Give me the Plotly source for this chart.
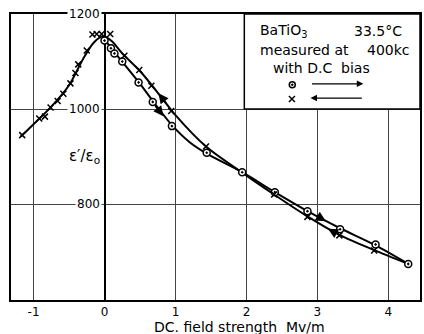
import plotly.graph_objects as go

# ---- data ----
# smooth curve through the "decreasing field" (x) points
curve_dec_x = [-1.18, -1.0, -0.75, -0.5, -0.3, -0.15, -0.02, 0.1, 0.25, 0.5, 0.8, 1.0, 1.43, 1.94, 2.39, 2.86, 3.31, 3.80, 4.28]
curve_dec_y = [942, 968, 1005, 1050, 1106, 1140, 1153, 1143, 1117, 1080, 1025, 987, 921, 866, 820, 774, 735, 703, 674]
# smooth curve through the "increasing field" (circle) points
curve_inc_x = [0.0, 0.16, 0.48, 0.68, 0.95, 1.2, 1.44, 1.94, 2.40, 2.86, 3.32, 3.82, 4.28]
curve_inc_y = [1146, 1116, 1057, 1017, 966, 930, 906, 867, 825, 785, 749, 713, 674]

# measured points
inc_x = [0.0, 0.09, 0.14, 0.25, 0.48, 0.68, 0.95, 1.44, 1.94, 2.40, 2.86, 3.32, 3.82, 4.28]
inc_y = [1144, 1128, 1117, 1100, 1056, 1015, 964, 908, 867, 825, 785, 747, 715, 674]
dec_x = [3.80, 3.31, 2.86, 2.39, 1.43, 0.94, 0.66, 0.49, 0.28, 0.08, -0.04, -0.11, -0.17,
         -0.25, -0.37, -0.41, -0.48, -0.58, -0.66, -0.76, -0.84, -0.92, -1.16]
dec_y = [702, 734, 773, 820, 921, 996, 1049, 1082, 1112, 1158, 1158, 1158, 1157,
         1123, 1094, 1076, 1054, 1032, 1017, 1003, 984, 980, 945]

x_ticks = [-1, 0, 1, 2, 3, 4]
x_ticktext = ["-1", "0", "1", "2", "3", "4"]
y_grid = [800, 1000]
y_labels = [1200, 1000, 800]

# legend sample symbols
legend_sym_x = [2.646, 2.641]
legend_sym_y = [1051, 1021]
legend_sym = ["circle-dot", "x-thin"]

FONT = "DejaVu Sans"

fig = go.Figure()
fig.add_trace(go.Scatter(x=curve_dec_x, y=curve_dec_y, mode="lines",
                         line=dict(color="black", width=2, shape="spline", smoothing=0.8),
                         hoverinfo="skip", showlegend=False))
fig.add_trace(go.Scatter(x=curve_inc_x, y=curve_inc_y, mode="lines",
                         line=dict(color="black", width=2, shape="spline", smoothing=0.8),
                         hoverinfo="skip", showlegend=False))
fig.add_trace(go.Scatter(x=inc_x, y=inc_y, mode="markers",
                         marker=dict(symbol="circle-dot", size=7, color="white",
                                     line=dict(color="black", width=1.5)),
                         showlegend=False))
fig.add_trace(go.Scatter(x=dec_x, y=dec_y, mode="markers",
                         marker=dict(symbol="x-thin", size=6, color="black",
                                     line=dict(color="black", width=1.5)),
                         showlegend=False))

# legend box (between gridlines and traces)
fig.add_shape(type="rect", xref="x", yref="y", x0=1.97, x1=4.446, y0=1000, y1=1200,
              line=dict(color="black", width=1.5), fillcolor="white", layer="between")
fig.add_trace(go.Scatter(x=legend_sym_x, y=legend_sym_y, mode="markers",
                         marker=dict(symbol=legend_sym, size=6, color="white",
                                     line=dict(color="black", width=1.5)),
                         showlegend=False, hoverinfo="skip"))

ann = []
def txt(x, y, t, size=14, xanchor="left", bg=None, yref="y"):
    d = dict(x=x, y=y, xref="x", yref=yref, text=t, showarrow=False, xanchor=xanchor,
             yanchor="middle", font=dict(family=FONT, size=size, color="black"))
    if bg:
        d.update(bgcolor=bg, borderpad=1)
    ann.append(d)

txt(2.156, 1165, "BaTiO<sub>3</sub>")
txt(4.22, 1165, "33.5°C", xanchor="right")
txt(2.156, 1124, "measured at")
txt(4.33, 1124, "400kc", xanchor="right")
txt(2.342, 1086, "with D.C  bias")

for v in y_labels:
    txt(-0.035, v, str(v), size=12, xanchor="right", bg="white")

txt(-0.03, 900, "ε′/ε<sub>o</sub>", size=15, xanchor="right")

# x-axis title (placed off-centre as in the original)
txt(1.907, -0.093, "DC. field strength  Mv/m", size=14, xanchor="center", yref="paper")

def arrow(xh, yh, xt, yt, w=1.3, head=2, size=1.0):
    ann.append(dict(x=xh, y=yh, ax=xt, ay=yt, xref="x", yref="y", axref="x", ayref="y",
                    text="", showarrow=True, arrowhead=head, arrowsize=size,
                    arrowwidth=w, arrowcolor="black", standoff=0, startstandoff=0))

# legend arrows
arrow(3.647, 1053, 2.903, 1053)
arrow(2.903, 1023, 3.647, 1023)
# arrows on curves
arrow(0.83, 985, 0.70, 1010, w=2)
arrow(0.76, 1033, 0.88, 1010, w=2)
arrow(3.12, 764, 2.98, 776, w=2)
arrow(3.15, 748, 3.28, 737, w=2)

fig.update_layout(
    width=424, height=334,
    margin=dict(l=11, r=2, t=14, b=34),
    paper_bgcolor="white", plot_bgcolor="white",
    annotations=ann,
    font=dict(family=FONT, color="black"),
    xaxis=dict(range=[-1.318, 4.446], tickvals=x_ticks, ticktext=x_ticktext,
               showgrid=True, gridcolor="#444", gridwidth=1,
               zeroline=True, zerolinecolor="black", zerolinewidth=2,
               showline=True, mirror=True, linecolor="black", linewidth=2,
               ticks="", tickfont=dict(family=FONT, size=12)),
    yaxis=dict(range=[598, 1200], tickvals=y_grid, showticklabels=False,
               showgrid=True, gridcolor="#444", gridwidth=1, zeroline=False,
               showline=True, mirror=True, linecolor="black", linewidth=2, ticks=""),
)

fig.write_html("out.html")
